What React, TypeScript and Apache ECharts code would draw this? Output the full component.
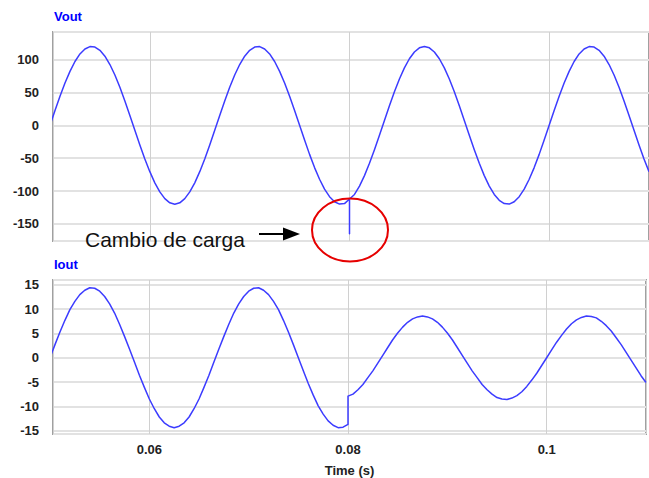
import React, { useEffect, useRef } from "react";
import * as echarts from "echarts";

// Time samples (s), before and after the load change
const timeA = [
  0.0500, 0.0505, 0.0510, 0.0515, 0.0520, 0.0525, 0.0530, 0.0535, 0.0540, 0.0545,
  0.0550, 0.0555, 0.0560, 0.0565, 0.0570, 0.0575, 0.0580, 0.0585, 0.0590, 0.0595,
  0.0600, 0.0605, 0.0610, 0.0615, 0.0620, 0.0625, 0.0630, 0.0635, 0.0640, 0.0645,
  0.0650, 0.0655, 0.0660, 0.0665, 0.0670, 0.0675, 0.0680, 0.0685, 0.0690, 0.0695,
  0.0700, 0.0705, 0.0710, 0.0715, 0.0720, 0.0725, 0.0730, 0.0735, 0.0740, 0.0745,
  0.0750, 0.0755, 0.0760, 0.0765, 0.0770, 0.0775, 0.0780, 0.0785, 0.0790, 0.0795,
  0.0800,
];
const timeB = [
  0.0800, 0.0805, 0.0810, 0.0815, 0.0820, 0.0825, 0.0830, 0.0835, 0.0840, 0.0845,
  0.0850, 0.0855, 0.0860, 0.0865, 0.0870, 0.0875, 0.0880, 0.0885, 0.0890, 0.0895,
  0.0900, 0.0905, 0.0910, 0.0915, 0.0920, 0.0925, 0.0930, 0.0935, 0.0940, 0.0945,
  0.0950, 0.0955, 0.0960, 0.0965, 0.0970, 0.0975, 0.0980, 0.0985, 0.0990, 0.0995,
  0.1000, 0.1005, 0.1010, 0.1015, 0.1020, 0.1025, 0.1030, 0.1035, 0.1040, 0.1045,
  0.1050, 0.1055, 0.1060, 0.1065, 0.1070, 0.1075, 0.1080, 0.1085, 0.1090, 0.1095,
  0.1100,
];
const eventTime = 0.08;

// Vout (V)
const voutA = [
  0, 22.5, 44.2, 64.3, 82.1, 97.1, 108.6, 116.2, 119.8, 119.1,
  114.1, 105.2, 92.5, 76.5, 57.8, 37.1, 15.0, -7.5, -29.8, -51.1,
  -70.5, -87.5, -101.3, -111.6, -117.9, -120, -117.9, -111.6, -101.3, -87.5,
  -70.5, -51.1, -29.8, -7.5, 15.0, 37.1, 57.8, 76.5, 92.5, 105.2,
  114.1, 119.1, 119.8, 116.2, 108.6, 97.1, 82.1, 64.3, 44.2, 22.5,
  0, -22.5, -44.2, -64.3, -82.1, -97.1, -108.6, -116.2, -119.8, -119.1,
  -112,
];
const voutSpike = [-112, -165, -112];
const voutB = [
  -112, -105.2, -92.5, -76.5, -57.8, -37.1, -15.0, 7.5, 29.8, 51.1,
  70.5, 87.5, 101.3, 111.6, 117.9, 120, 117.9, 111.6, 101.3, 87.5,
  70.5, 51.1, 29.8, 7.5, -15.0, -37.1, -57.8, -76.5, -92.5, -105.2,
  -114.1, -119.1, -119.8, -116.2, -108.6, -97.1, -82.1, -64.3, -44.2, -22.5,
  0, 22.5, 44.2, 64.3, 82.1, 97.1, 108.6, 116.2, 119.8, 119.1,
  114.1, 105.2, 92.5, 76.5, 57.8, 37.1, 15.0, -7.5, -29.8, -51.1,
  -70.5,
];

// Iout (A)
const ioutA = [
  0, 2.7, 5.3, 7.7, 9.9, 11.6, 13.0, 13.9, 14.4, 14.3,
  13.7, 12.6, 11.1, 9.2, 6.9, 4.4, 1.8, -0.9, -3.6, -6.1,
  -8.5, -10.5, -12.2, -13.4, -14.1, -14.4, -14.1, -13.4, -12.2, -10.5,
  -8.5, -6.1, -3.6, -0.9, 1.8, 4.4, 6.9, 9.2, 11.1, 12.6,
  13.7, 14.3, 14.4, 13.9, 13.0, 11.6, 9.9, 7.7, 5.3, 2.7,
  0, -2.7, -5.3, -7.7, -9.9, -11.6, -13.0, -13.9, -14.4, -14.3,
  -13.7,
];
const ioutB = [
  -7.9, -7.5, -6.6, -5.5, -4.1, -2.7, -1.1, 0.5, 2.1, 3.7,
  5.1, 6.3, 7.3, 8.0, 8.4, 8.6, 8.4, 8.0, 7.3, 6.3,
  5.1, 3.7, 2.1, 0.5, -1.1, -2.7, -4.1, -5.5, -6.6, -7.5,
  -8.2, -8.5, -8.6, -8.3, -7.8, -7.0, -5.9, -4.6, -3.2, -1.6,
  0, 1.6, 3.2, 4.6, 5.9, 7.0, 7.8, 8.3, 8.6, 8.5,
  8.2, 7.5, 6.6, 5.5, 4.1, 2.7, 1.1, -0.5, -2.1, -3.7,
  -5.1,
];

// Axis settings
const xRange = [0.0503, 0.110];
const xStep = 0.02;
const voutRange = [-176, 142];
const voutStep = 50;
const ioutRange = [-15.7, 16];
const ioutTickStep = 5;

const FONT = "'Liberation Sans', Arial, sans-serif";
const LINE = "#3c3cff";

const multipleFormatter = (step: number, digits: number) => (v: number) => {
  const r = v / step;
  if (Math.abs(r - Math.round(r)) > 1e-6) return "";
  return String(Math.round(v * Math.pow(10, digits)) / Math.pow(10, digits));
};

const labelStyle = {
  fontFamily: FONT,
  fontWeight: "bold" as const,
  fontSize: 13,
  color: "#222",
};

export default function App() {
  const ref = useRef<HTMLDivElement>(null);
  useEffect(() => {
    if (!ref.current) return;
    const chart = echarts.init(ref.current, undefined, { renderer: "svg" });
    const pair = (ts: number[], vs: number[]) => ts.map((t, i) => [t, vs[i]]);
    const vertical = (vs: number[]) => vs.map((v) => [eventTime, v]);
    const lineSeries = (name: string, data: number[][], idx: number) => ({
      name,
      type: "line",
      xAxisIndex: idx,
      yAxisIndex: idx,
      data,
      smooth: false,
      showSymbol: false,
      symbol: "none",
      lineStyle: { color: LINE, width: 1.5, join: "round" },
      itemStyle: { color: LINE },
      clip: true,
      z: 5,
    });
    const gridBase = {
      left: 53,
      width: 598,
      show: true,
      borderColor: "#a0a0a0",
      borderWidth: 2,
      backgroundColor: "transparent",
    };
    const xBase = {
      type: "value",
      min: xRange[0],
      max: xRange[1],
      minInterval: xStep,
      maxInterval: xStep,
      axisLine: { show: false },
      axisTick: { show: false },
      splitLine: { show: true, lineStyle: { color: "#d0d0d0", width: 1 } },
    };
    const yBase = {
      type: "value",
      axisLine: { show: false },
      axisTick: { show: false },
      splitLine: { show: true, lineStyle: { color: "#e2e2e2", width: 2 } },
    };
    chart.setOption({
      animation: false,
      grid: [
        { ...gridBase, top: 32, height: 209 },
        { ...gridBase, top: 280, height: 156 },
      ],
      xAxis: [
        { ...xBase, gridIndex: 0, axisLabel: { show: false } },
        {
          ...xBase,
          gridIndex: 1,
          axisLabel: { ...labelStyle, margin: 9, formatter: multipleFormatter(xStep, 2) },
          name: "Time (s)",
          nameLocation: "middle",
          nameGap: 30,
          nameTextStyle: labelStyle,
        },
      ],
      yAxis: [
        {
          ...yBase,
          gridIndex: 0,
          min: voutRange[0],
          max: voutRange[1],
          minInterval: voutStep,
          maxInterval: voutStep,
          axisLabel: { ...labelStyle, margin: 14, formatter: multipleFormatter(voutStep, 0) },
        },
        {
          ...yBase,
          gridIndex: 1,
          min: ioutRange[0],
          max: ioutRange[1],
          minInterval: ioutTickStep,
          maxInterval: ioutTickStep,
          axisLabel: { ...labelStyle, margin: 14, formatter: multipleFormatter(ioutTickStep, 0) },
        },
      ],
      series: [
        lineSeries("Vout", [...pair(timeA, voutA), ...vertical(voutSpike), ...pair(timeB, voutB)], 0),
        lineSeries("Iout", [...pair(timeA, ioutA), ...pair(timeB, ioutB)], 1),
      ],
      graphic: [
        {
          type: "text",
          left: 54,
          top: 10,
          z: 100,
          style: { text: "Vout", fill: "#0000ff", font: `bold 13px ${FONT}` },
        },
        {
          type: "text",
          left: 54,
          top: 258,
          z: 100,
          style: { text: "Iout", fill: "#0000ff", font: `bold 13px ${FONT}` },
        },
        {
          type: "text",
          x: 85,
          y: 239,
          z: 100,
          style: {
            text: "Cambio de carga",
            fill: "#111",
            font: `21px ${FONT}`,
            verticalAlign: "middle",
            align: "left",
          },
        },
        {
          type: "line",
          z: 100,
          shape: { x1: 259, y1: 234, x2: 287, y2: 234 },
          style: { stroke: "#000", lineWidth: 2 },
        },
        {
          type: "polygon",
          z: 100,
          shape: { points: [[283, 227.5], [300, 234], [283, 240.5]] },
          style: { fill: "#000" },
        },
        {
          type: "ellipse",
          z: 100,
          shape: { cx: 350, cy: 230, rx: 38, ry: 31.5 },
          style: { fill: "none", stroke: "#e60000", lineWidth: 2 },
        },
      ],
    });
    return () => chart.dispose();
  }, []);
  return (
    <div
      ref={ref}
      style={{ position: "fixed", left: 0, top: 0, width: 649, height: 478, background: "#fff" }}
    />
  );
}
